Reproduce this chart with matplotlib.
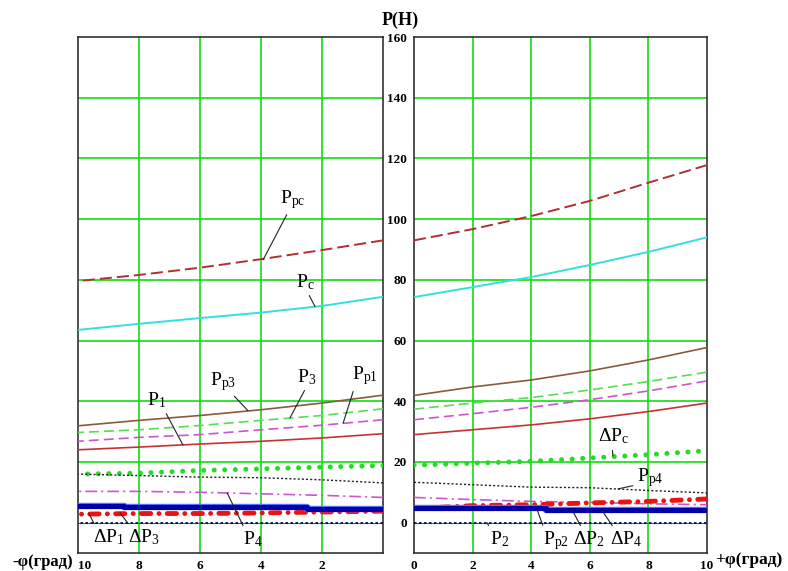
import matplotlib
matplotlib.use("Agg")
import matplotlib.pyplot as plt

plt.rcParams['font.family'] = ['Liberation Serif', 'DejaVu Serif']
plt.rcParams['mathtext.fontset'] = 'custom'
plt.rcParams['mathtext.rm'] = 'Liberation Serif'
plt.rcParams['mathtext.it'] = 'Liberation Serif:italic'
plt.rcParams['mathtext.bf'] = 'Liberation Serif:bold'

# angle values (degrees), same grid for both halves
phi = [0, 2, 4, 6, 8, 10]

# left half: -phi
Ppc_L = [93, 89.8, 86.8, 84, 81.6, 79.6]
Pc_L = [74.4, 71.4, 69.2, 67.4, 65.5, 63.5]
Pp3_L = [42, 39.4, 37.2, 35.3, 33.7, 31.9]
P3_L = [37.5, 35.3, 33.7, 32, 30.6, 29.7]
Pp1_L = [33.9, 32.1, 30.6, 29, 28.1, 26.8]
P1_L = [29.3, 27.9, 26.8, 25.9, 24.9, 24]
dPc_L = [18.8, 18.3, 17.7, 17.2, 16.3, 16]
Pp4_L = [13.1, 14.1, 14.8, 15, 15.5, 16]
P4_L = [8.3, 9, 9.5, 10, 10.3, 10.3]
dP13_L = [3.8, 3.5, 3.2, 3.0, 3.0, 2.8]
zero_L = [0, 0, 0, 0, 0, 0]
blue_phi_L = [0, 2.5, 2.5, 8.5, 8.5, 10]
blue_L = [4.6, 4.6, 5.0, 5.0, 5.6, 5.6]

# right half: +phi
Ppc_R = [93, 96.7, 101, 106, 112, 117.8]
Pc_R = [74.3, 77.6, 80.9, 84.9, 89.2, 94]
Pp3_R = [41.9, 44.7, 47, 50, 53.6, 57.7]
P3_R = [37.4, 39.4, 41.2, 43.7, 46.5, 49.6]
Pp1_R = [33.9, 35.9, 38, 40.5, 43.4, 46.7]
P1_R = [29, 30.6, 32.2, 34.2, 36.6, 39.4]
dPc_R = [18.9, 19.6, 20.2, 21.3, 22.4, 23.7]
Pp4_R = [13.3, 12.5, 11.7, 11.5, 10.6, 9.8]
P4_R = [8.3, 7.6, 7, 6.7, 6.2, 5.9]
dP24_R = [4.6, 5.6, 5.9, 6.5, 7, 7.8]
zero_R = [0, 0, 0, 0, 0, 0]
blue_phi_R = [0, 4.5, 4.5, 10]
blue_R = [4.8, 4.8, 4.3, 4.3]

yticks = [0, 20, 40, 60, 80, 100, 120, 140, 160]
grid_y = [20, 40, 60, 80, 100, 120, 140]
grid_x = [2, 4, 6, 8]

W, H = 788, 571
fig = plt.figure(figsize=(W / 100, H / 100), dpi=100)
axL = fig.add_axes([78 / W, 1 - 553 / H, 305 / W, 516 / H])
axR = fig.add_axes([414 / W, 1 - 553 / H, 293 / W, 516 / H])

gcol = '#11dd11'


def draw(ax, ppc, pc, pp3, p3, pp1, p1, dpc, pp4, p4, dpr, zero, bx, by):
    for g in grid_y:
        ax.axhline(g, color=gcol, lw=1.2, zorder=1)
    for g in grid_x:
        ax.axvline(g, color=gcol, lw=1.2, zorder=1)
    ax.plot(phi, zero, color='#008080', lw=0.8, zorder=2)
    ax.plot(phi, zero, color='#000050', lw=1.2, dashes=(1.5, 1.5), zorder=3)
    ax.plot(phi, ppc, color='#b03030', lw=1.4, dashes=(6.2, 2.6), zorder=3)
    ax.plot(phi, pc, color='#33e0e0', lw=1.4, zorder=3)
    ax.plot(phi, pp3, color='#8b5a3c', lw=1.2, zorder=3)
    ax.plot(phi, p3, color='#55dd55', lw=1.2, dashes=(6, 3), zorder=3)
    ax.plot(phi, pp1, color='#cc55cc', lw=1.2, dashes=(6, 3), zorder=3)
    ax.plot(phi, p1, color='#c83232', lw=1.2, zorder=3)
    ax.plot(phi, dpc, color='#22dd22', lw=3.6, dashes=(0.01, 2.1),
            dash_capstyle='round', zorder=3)
    ax.plot(phi, pp4, color='#222222', lw=1.0, dashes=(1.5, 1.5), zorder=3)
    ax.plot(phi, p4, color='#cc55cc', lw=1.2, dashes=(7, 2.5, 1.2, 2.5), zorder=3)
    ax.plot(phi, dpr, color='#ee1111', lw=3.5, dashes=(1.9, 1.7, 0.01, 1.7),
            dash_capstyle='round', zorder=4)
    ax.plot(bx, by, color='#5070ff', lw=4.6, zorder=5)
    ax.plot(bx, by, color='#0000a8', lw=3.6, zorder=5)
    ax.set_ylim(-10, 160)
    for s in ax.spines.values():
        s.set_linewidth(1.1)
        s.set_color('#222222')
    ax.tick_params(length=0, labelsize=9.5, pad=5)


draw(axL, Ppc_L, Pc_L, Pp3_L, P3_L, Pp1_L, P1_L, dPc_L, Pp4_L, P4_L, dP13_L,
     zero_L, blue_phi_L, blue_L)
draw(axR, Ppc_R, Pc_R, Pp3_R, P3_R, Pp1_R, P1_R, dPc_R, Pp4_R, P4_R, dP24_R,
     zero_R, blue_phi_R, blue_R)

axL.set_xlim(10, 0)
axL.set_xticks([10, 8, 6, 4, 2])
axL.set_yticks([])
axR.set_xlim(0, 10)
axR.set_xticks([0, 2, 4, 6, 8, 10])
axR.set_yticks(yticks)
for ax in (axL, axR):
    for lab in ax.get_xticklabels() + ax.get_yticklabels():
        lab.set_fontweight('bold')
axL.get_xticklabels()[0].set_horizontalalignment('left')

# labels with leader lines: (text, point on curve, text position, leader anchor on text)
notes_L = [
    (r'$\mathrm{P_{pc}}$', (3.93, 86.6), (3.38, 105.3), (0.35, 0.0)),
    (r'$\mathrm{P_{c}}$', (2.23, 71.2), (2.85, 77.7), (0.6, 0.0)),
    (r'$\mathrm{P_{1}}$', (6.56, 25.6), (7.74, 38.8), (0.9, 0.0)),
    (r'$\mathrm{P_{p3}}$', (4.43, 36.9), (5.67, 45.4), (0.8, 0.0)),
    (r'$\mathrm{P_{3}}$', (3.05, 34.5), (2.82, 46.4), (0.5, 0.0)),
    (r'$\mathrm{P_{p1}}$', (1.31, 32.7), (1.02, 47.1), (0.1, 0.0)),
    (r'$\mathrm{P_{4}}$', (5.11, 9.8), (4.59, -7.2), (0.1, 1.0)),
    (r'$\mathrm{\Delta P_{1}}$', (9.64, 3.0), (9.51, -6.6), (0.1, 1.0)),
    (r'$\mathrm{\Delta P_{3}}$', (8.62, 3.2), (8.36, -6.6), (0.1, 1.0)),
]
notes_R = [
    (r'$\mathrm{\Delta P_{c}}$', (6.79, 22.0), (6.28, 26.7), (0.45, 0.0)),
    (r'$\mathrm{P_{p4}}$', (6.96, 11.1), (7.61, 13.5), (0.0, 0.2)),
    (r'$\mathrm{P_{2}}$', (2.49, 0.0), (2.59, -7.2), (0.05, 1.0)),
    (r'$\mathrm{P_{p2}}$', (4.2, 4.3), (4.40, -7.2), (0.05, 1.0)),
    (r'$\mathrm{\Delta P_{2}}$', (5.39, 4.3), (5.43, -7.2), (0.3, 1.0)),
    (r'$\mathrm{\Delta P_{4}}$', (6.42, 4.0), (6.69, -7.2), (0.15, 1.0)),
]
for ax, notes in ((axL, notes_L), (axR, notes_R)):
    for txt, xy, xyt, rp in notes:
        ax.annotate(txt, xy=xy, xytext=xyt, fontsize=14, ha='left', va='baseline',
                    zorder=6,
                    arrowprops=dict(arrowstyle='-', lw=0.8, color='#222222',
                                    shrinkA=1, shrinkB=0, relpos=rp))

fig.text(400 / W, 1 - 20 / H, 'P(H)', fontsize=13, fontweight='bold',
         ha='center', va='center')
fig.text(73 / W, 1 - 562 / H, '-φ(град)', fontsize=12, fontweight='bold',
         ha='right', va='center')
fig.text(715 / W, 1 - 560 / H, '+φ(град)', fontsize=12.5, fontweight='bold',
         ha='left', va='center')

fig.savefig('out.png', dpi=100)
